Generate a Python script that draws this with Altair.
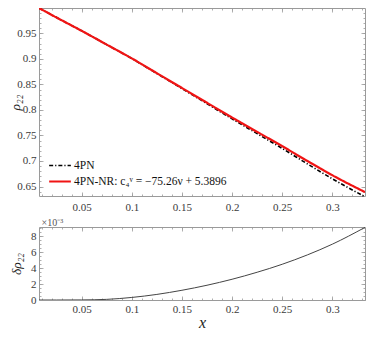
import altair as alt
import pandas as pd

# ---------------- data ----------------
x_vals = [0.0075, 0.025, 0.05, 0.075, 0.1, 0.125, 0.15, 0.175, 0.2, 0.225, 0.25, 0.275, 0.3, 0.3325]
rho_nr = [0.9997, 0.981, 0.955, 0.928, 0.901, 0.872, 0.843, 0.814, 0.785, 0.757, 0.729, 0.700, 0.672, 0.639]
rho_4pn = [0.9997, 0.981, 0.955, 0.9279, 0.9007, 0.8713, 0.8418, 0.8122, 0.7824, 0.7535, 0.7245, 0.6944, 0.665, 0.6299]
delta_rho = [0.0, 0.0, 0.01, 0.08, 0.32, 0.70, 1.22, 1.85, 2.60, 3.48, 4.48, 5.65, 7.0, 9.1]  # x 10^-3

series_names = ["4PN", "4PN-NR: c₄ᵛ = −75.26ν + 5.3896"]
x_major = [0.05, 0.1, 0.15, 0.2, 0.25, 0.3]
x_minor = [round(0.01 * i, 2) for i in range(1, 34)]
y1_major = [0.65, 0.7, 0.75, 0.8, 0.85, 0.9, 0.95]
y1_minor = [round(0.64 + 0.01 * i, 2) for i in range(0, 36)]
y2_major = [0, 2, 4, 6, 8]
y2_minor = [0.5 * i for i in range(0, 19)]
x_domain = [0.0075, 0.3325]
y1_domain = [0.6314, 0.9997]
y2_domain = [0, 9.15]
scale_label = "×10⁻³"

# ---------------- layout / styling ----------------
W = 326                 # plot width
TOP0, TOP1 = 0, 188     # top panel pixel rows (inside plot area)
BOT0, BOT1 = 219, 292   # bottom panel pixel rows
H = BOT1                # total plot height
FONT = "Liberation Serif, Times New Roman, serif"
FRAME = "#9a9a9a"
LAB = "#3a3a3a"

df_4pn = pd.DataFrame({"x": x_vals, "v": rho_4pn, "series": series_names[0]})
df_nr = pd.DataFrame({"x": x_vals, "v": rho_nr, "series": series_names[1]})
df_d = pd.DataFrame({"x": x_vals, "v": delta_rho})


def tick_axis(orient, offset, values, size, domain, **extra):
    kw = dict(orient=orient, offset=offset, values=values, labels=False, ticks=True,
              tickSize=size, tickColor=FRAME, tickWidth=0.8, domain=domain,
              domainColor=FRAME, domainWidth=1, grid=False, title=None)
    kw.update(extra)
    return alt.Axis(**kw)


def label_axis(orient, offset, values, pad, **extra):
    kw = dict(orient=orient, offset=offset, values=values, format="~g", ticks=False,
              tickSize=0, domain=False, grid=False, labelFont=FONT, labelFontSize=11,
              labelColor=LAB, labelPadding=pad, title=None)
    kw.update(extra)
    return alt.Axis(**kw)


TITLE_STYLE = dict(titleFont=FONT, titleFontStyle="italic", titleFontWeight="normal",
                   titleColor="#222222")


def panel_axes(r0, r1, ymaj, ymin, xlab, ylab, ymin_left_extra=None):
    # frame lines with inward ticks on the four sides of a panel spanning rows r0..r1
    xs = [xlab,
          tick_axis("top", -r1, x_major, 4, True),          # bottom frame
          tick_axis("bottom", r0 - H, x_major, 4, True),    # top frame
          tick_axis("top", -r1, x_minor, 2, False),
          tick_axis("bottom", r0 - H, x_minor, 2, False)]
    ys = [ylab,
          tick_axis("right", -W, ymaj, 4, True),           # left frame
          tick_axis("left", -W, ymaj, 4, True),            # right frame
          tick_axis("right", -W, ymin, 2, False, **(ymin_left_extra or {})),
          tick_axis("left", -W, ymin, 2, False)]
    return xs, ys


xs_sc = alt.Scale(domain=x_domain, nice=False, zero=False)
y1_sc = alt.Scale(domain=y1_domain, range=[TOP1, TOP0], nice=False, zero=False)
y2_sc = alt.Scale(domain=y2_domain, range=[BOT1, BOT0], nice=False, zero=False)

# ---------------- top panel ----------------
leg = alt.Legend(orient="none", legendX=9, legendY=151, title=None, symbolType="stroke",
                 symbolSize=470, labelFont=FONT, labelFontSize=11.5, labelColor="#111111",
                 labelOffset=2, labelLimit=400, clipHeight=13, rowPadding=3, padding=0)
color_enc = alt.Color("series:N", scale=alt.Scale(domain=series_names, range=["#000000", "#f01414"]), legend=leg)
dash_enc = alt.StrokeDash("series:N", scale=alt.Scale(domain=series_names, range=[[4, 2, 1.2, 2], [1, 0]]), legend=leg)
width_enc = alt.StrokeWidth("series:N", scale=alt.Scale(domain=series_names, range=[1.6, 2.2]), legend=leg)

xa1, ya1 = panel_axes(
    TOP0, TOP1, y1_major, y1_minor,
    label_axis("bottom", TOP1 - H, x_major, 5),
    label_axis("left", 0, y1_major, 3, title="ρ₂₂", titleFontSize=13.5, titleX=-16.5, **TITLE_STYLE))

layers = []
for i in range(5):
    if i == 0:
        base = alt.Chart(df_4pn).mark_line(clip=True, interpolate="monotone")
    elif i == 1:
        base = alt.Chart(df_nr).mark_line(clip=True, interpolate="monotone")
    else:
        base = alt.Chart(df_nr).mark_line(opacity=0, strokeOpacity=0)
    enc = dict(x=alt.X("x:Q", scale=xs_sc, axis=xa1[i]),
               y=alt.Y("v:Q", scale=y1_sc, axis=ya1[i]))
    if i < 2:
        enc.update(color=color_enc, strokeDash=dash_enc, strokeWidth=width_enc)
    layers.append(base.encode(**enc))

# ---------------- bottom panel ----------------
xa2, ya2 = panel_axes(
    BOT0, BOT1, y2_major, y2_minor,
    label_axis("bottom", 0, x_major, 3, title="x", titleFontSize=16, titlePadding=0, **TITLE_STYLE),
    label_axis("left", 0, y2_major, 3, title="δρ₂₂", titleFontSize=13.5, titleX=-16, **TITLE_STYLE),
    ymin_left_extra=dict(title=scale_label, titleAngle=0, titleX=2, titleY=BOT0 - 2,
                         titleAlign="left", titleBaseline="alphabetic", titleFont=FONT,
                         titleFontSize=10, titleFontWeight="normal", titleColor="#555555"))

for i in range(5):
    if i == 0:
        base = alt.Chart(df_d).mark_line(clip=True, interpolate="monotone", color="#444444", strokeWidth=1)
    else:
        base = alt.Chart(df_d).mark_line(opacity=0, strokeOpacity=0)
    layers.append(base.encode(x=alt.X("x:Q", scale=xs_sc, axis=xa2[i]),
                              y=alt.Y("v:Q", scale=y2_sc, axis=ya2[i])))

chart = alt.layer(*layers).resolve_scale(x="shared", y="independent").resolve_axis(
    x="independent", y="independent").properties(
    width=W, height=H,
    autosize=alt.AutoSizeParams(type="none"),
    padding={"left": 31, "top": 0, "right": 1, "bottom": 30},
).configure_view(stroke=None)

chart.save("out.html", embed_options={"renderer": "svg", "actions": False})
